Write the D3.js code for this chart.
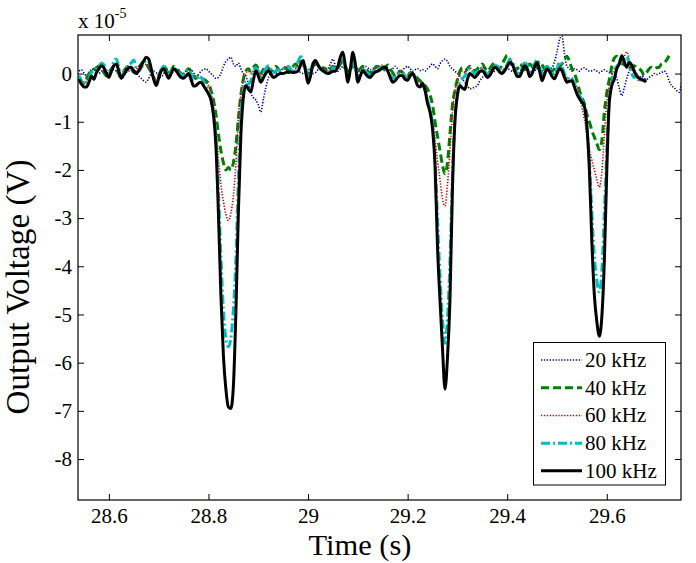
<!DOCTYPE html>
<html><head><meta charset="utf-8">
<script src="https://cdn.jsdelivr.net/npm/d3@7"></script>
<style>body{margin:0;background:#fff}svg{display:block}
text{font-family:"Liberation Serif","Times New Roman",Times,serif}</style>
</head><body><div id="chart"></div>
<script>
// ---- data (values in units of 1e-5 V), sampled every 5 ms from 28.54 s ----
const tStart = 28.54, tStep = 0.005;
const xTicks = [28.6, 28.8, 29, 29.2, 29.4, 29.6];
const yTicks = [0, -1, -2, -3, -4, -5, -6, -7, -8];
const seriesLabels = ["20 kHz", "40 kHz", "60 kHz", "80 kHz", "100 kHz"];

const v20 = [
 0.05,0.08,0.02,-0.05,0.00,0.08,0.10,0.05,0.00,0.05,
 0.10,0.05,-0.02,0.02,0.08,0.05,-0.05,-0.10,-0.05,0.02,
 0.05,0.10,0.08,0.02,-0.05,-0.10,-0.15,-0.18,-0.10,0.00,
 0.05,0.02,-0.05,-0.08,0.00,0.05,0.02,-0.02,0.05,0.10,
 0.08,0.02,0.00,0.05,0.10,0.08,0.02,-0.05,-0.02,0.05,
 0.08,0.10,0.05,0.00,-0.05,-0.10,-0.08,0.00,0.15,0.25,
 0.30,0.34,0.20,0.15,0.22,0.10,0.00,-0.05,-0.20,-0.40,
 -0.50,-0.55,-0.65,-0.80,-0.55,-0.30,-0.10,0.00,0.05,0.02,
 -0.02,0.05,0.10,0.08,0.02,0.00,0.05,0.10,0.08,0.02,
 0.00,0.05,0.10,0.05,0.00,0.02,0.08,0.12,0.10,0.05,
 0.10,0.20,0.30,0.15,0.05,0.10,0.15,0.08,0.05,0.10,
 0.12,0.15,0.10,0.05,0.10,0.15,0.12,0.08,0.10,0.15,
 0.12,0.08,0.10,0.15,0.12,0.05,0.10,0.15,0.10,0.05,
 0.08,0.12,0.15,0.10,0.05,0.08,0.10,0.06,0.08,0.05,
 0.10,0.15,0.20,0.15,0.10,0.20,0.27,0.30,0.25,0.15,
 0.10,0.05,0.00,-0.05,-0.12,-0.18,-0.25,-0.32,-0.30,-0.28,
 -0.25,-0.15,-0.08,-0.02,0.02,0.05,0.02,0.05,0.08,0.05,
 0.02,0.05,0.10,0.08,0.05,0.10,0.12,0.08,0.05,0.10,
 0.08,0.05,0.02,0.05,0.10,0.08,0.05,0.10,0.15,0.10,
 0.12,0.25,0.45,0.70,0.78,0.40,0.15,0.10,0.05,0.10,
 0.08,0.05,0.10,0.12,0.08,0.05,0.06,0.08,0.05,0.02,
 0.05,0.08,0.05,0.02,0.00,-0.02,-0.10,-0.30,-0.46,-0.30,
 -0.10,0.05,0.13,0.08,0.00,-0.08,-0.05,-0.10,-0.12,-0.08,
 -0.05,0.00,-0.02,0.00,0.02,0.05,0.00,-0.15,-0.25,-0.29,
 -0.35,-0.39,-0.20
];

const v40 = [
 -0.10,-0.18,-0.20,-0.10,0.00,0.05,0.08,0.12,0.15,0.10,
 0.02,-0.05,0.02,0.10,0.15,0.10,0.00,-0.05,0.05,0.12,
 0.15,0.10,0.02,0.05,0.12,0.20,0.25,0.22,0.12,0.02,
 -0.08,-0.15,-0.05,0.08,0.15,0.10,-0.02,0.05,0.15,0.12,
 0.05,0.00,-0.02,0.05,0.10,0.05,-0.05,-0.10,-0.05,-0.08,
 -0.12,-0.15,-0.20,-0.35,-0.55,-0.85,-1.25,-1.60,-1.85,-2.00,
 -1.95,-2.00,-1.85,-1.50,-0.95,-0.45,-0.12,0.05,0.10,0.05,
 0.12,0.18,0.10,0.00,0.08,0.15,0.12,0.05,0.10,0.15,
 0.10,0.05,0.08,0.12,0.05,0.10,0.15,0.20,0.15,0.25,
 0.20,0.05,-0.02,0.08,0.15,0.20,0.15,0.10,0.12,0.10,
 0.05,0.10,0.15,0.10,0.12,0.20,0.25,0.15,0.05,0.10,
 0.20,0.15,0.05,0.10,0.15,0.10,0.05,0.00,0.08,0.12,
 0.15,0.10,0.05,0.12,0.18,0.10,0.02,-0.05,0.00,0.05,
 0.02,-0.02,-0.05,0.02,0.00,-0.05,-0.10,-0.15,-0.20,-0.25,
 -0.32,-0.45,-0.65,-1.00,-1.30,-1.60,-1.90,-2.08,-1.85,-1.25,
 -0.65,-0.35,-0.12,0.05,0.12,0.05,0.10,0.15,0.10,0.05,
 0.10,0.15,0.20,0.12,0.05,0.10,0.18,0.22,0.15,0.10,
 0.20,0.30,0.38,0.30,0.15,0.05,0.10,0.20,0.15,0.08,
 0.12,0.20,0.15,0.08,0.15,0.25,0.18,0.10,0.15,0.08,
 0.05,0.10,0.18,0.15,0.20,0.30,0.36,0.25,0.10,0.00,
 -0.15,-0.35,-0.50,-0.62,-0.85,-1.00,-1.18,-1.32,-1.45,-1.58,
 -1.40,-0.80,-0.40,-0.12,0.15,0.32,0.36,0.30,0.22,0.18,
 0.15,0.12,0.15,0.16,0.12,0.10,0.05,-0.04,0.02,0.10,
 0.13,0.10,0.12,0.13,0.20,0.22,0.28,0.37
];

const v60 = [
 -0.05,-0.12,-0.18,-0.15,-0.05,0.05,0.10,0.08,0.12,0.15,
 0.10,0.02,0.00,0.10,0.18,0.15,0.05,-0.05,0.05,0.10,
 0.12,0.10,0.05,0.08,0.15,0.20,0.22,0.18,0.10,0.00,
 -0.10,-0.15,-0.02,0.08,0.12,0.05,-0.05,0.02,0.10,0.08,
 0.02,-0.02,0.00,0.05,0.08,0.02,-0.08,-0.12,-0.08,-0.10,
 -0.12,-0.18,-0.25,-0.40,-0.65,-1.15,-1.75,-2.30,-2.65,-2.92,
 -3.05,-2.90,-2.55,-1.90,-0.95,-0.45,-0.15,0.00,0.05,0.00,
 0.05,0.10,0.02,-0.08,0.00,0.10,0.12,0.05,0.00,0.05,
 0.08,0.05,0.10,0.15,0.12,0.08,0.05,0.10,0.18,0.25,
 0.22,0.05,-0.10,0.00,0.15,0.20,0.15,0.08,0.10,0.05,
 0.02,0.08,0.12,0.10,0.12,0.25,0.30,0.12,-0.05,0.08,
 0.28,0.15,-0.05,0.02,0.10,0.05,0.00,-0.02,0.05,0.10,
 0.12,0.15,0.18,0.12,0.05,-0.02,-0.08,-0.05,0.00,0.05,
 0.02,-0.05,-0.08,0.00,0.02,-0.05,-0.15,-0.20,-0.22,-0.28,
 -0.50,-0.75,-0.95,-1.35,-1.80,-2.20,-2.60,-2.75,-2.30,-1.60,
 -0.80,-0.35,-0.15,0.00,0.05,0.02,0.08,0.12,0.05,0.00,
 0.05,0.10,0.12,0.05,0.00,0.05,0.12,0.18,0.12,0.05,
 0.05,0.12,0.20,0.25,0.20,0.08,0.00,0.02,0.10,0.18,
 0.12,0.02,0.05,0.15,0.22,0.10,-0.05,0.02,0.10,0.05,
 0.00,-0.02,0.08,0.15,0.10,0.00,-0.10,-0.10,-0.12,-0.20,
 -0.30,-0.45,-0.70,-0.95,-1.25,-1.60,-1.80,-2.00,-2.20,-2.36,
 -2.05,-1.30,-0.60,-0.25,-0.05,0.10,0.15,0.22,0.28,0.35,
 0.45,0.30,0.10,0.00,-0.10,-0.15,-0.12,-0.18,-0.15
];

const v80 = [
 -0.05,-0.15,-0.22,-0.18,-0.10,0.02,0.05,0.10,0.15,0.22,
 0.18,0.05,-0.02,0.08,0.25,0.30,0.12,-0.05,0.02,0.10,
 0.18,0.22,0.28,0.10,0.05,0.12,0.20,0.28,0.25,0.08,
 -0.10,-0.18,-0.05,0.08,0.15,0.05,-0.05,0.05,0.12,0.08,
 0.02,-0.02,-0.05,0.05,0.08,0.00,-0.12,-0.10,-0.05,-0.08,
 -0.15,-0.25,-0.35,-0.50,-0.80,-1.30,-2.40,-3.80,-4.90,-5.50,
 -5.67,-5.50,-4.90,-3.90,-2.20,-0.90,-0.35,-0.15,-0.22,-0.15,
 0.05,0.12,0.05,-0.05,0.00,0.10,0.16,0.10,0.02,0.05,
 0.08,0.05,0.10,0.12,0.15,0.10,0.05,0.15,0.25,0.35,
 0.30,0.10,-0.05,0.05,0.22,0.25,0.15,0.10,0.05,0.08,
 0.05,0.10,0.12,0.08,0.15,0.28,0.30,0.10,-0.08,0.05,
 0.25,0.12,-0.10,0.00,0.10,0.05,0.00,-0.02,0.05,0.08,
 0.10,0.12,0.15,0.10,0.05,-0.02,-0.10,-0.08,-0.02,0.02,
 0.00,-0.05,-0.10,-0.02,0.02,-0.08,-0.20,-0.30,-0.25,-0.35,
 -0.55,-0.75,-1.05,-1.75,-3.00,-4.20,-5.10,-5.60,-5.10,-3.90,
 -2.10,-0.90,-0.40,-0.15,-0.10,-0.05,0.05,0.10,0.05,0.00,
 0.05,0.10,0.12,0.05,-0.02,0.02,0.10,0.18,0.15,0.08,
 0.05,0.10,0.20,0.28,0.25,0.10,0.00,0.02,0.12,0.22,
 0.18,0.05,0.08,0.20,0.28,0.15,-0.05,0.05,0.15,0.10,
 0.02,0.00,0.10,0.25,0.15,0.00,-0.10,-0.08,-0.10,-0.20,
 -0.35,-0.45,-0.55,-0.70,-1.10,-1.80,-2.90,-3.80,-4.30,-4.53,
 -4.10,-2.90,-1.60,-0.55,-0.20,0.05,0.15,0.20,0.25,0.30,
 0.35,0.20,0.00,-0.08,-0.05,-0.12,-0.15,-0.15
];

const v100 = [
 -0.12,-0.22,-0.28,-0.28,-0.18,-0.05,-0.12,0.02,0.10,0.16,
 0.12,0.00,-0.08,0.05,0.16,0.20,0.05,-0.10,-0.02,0.06,
 0.12,0.13,0.05,0.00,0.06,0.16,0.26,0.34,0.30,0.10,
 -0.12,-0.25,-0.10,0.05,0.10,0.00,-0.10,0.00,0.10,0.06,
 -0.02,-0.08,-0.10,-0.05,0.00,-0.12,-0.26,-0.25,-0.20,-0.18,
 -0.25,-0.33,-0.42,-0.55,-0.85,-1.50,-2.90,-4.60,-5.85,-6.55,
 -6.92,-6.95,-6.50,-5.00,-2.90,-1.30,-0.50,-0.25,-0.32,-0.38,
 -0.15,0.06,-0.05,-0.18,-0.10,0.00,0.06,0.00,-0.08,-0.06,
 -0.02,0.00,0.00,0.02,0.03,0.03,0.02,0.03,0.05,0.18,
 0.27,0.05,-0.20,-0.05,0.20,0.27,0.18,0.10,0.06,0.02,
 0.00,0.02,0.05,0.05,0.15,0.35,0.44,0.15,-0.18,0.10,
 0.44,0.20,-0.18,-0.05,0.06,0.00,-0.06,-0.08,-0.02,0.03,
 0.05,0.08,0.12,0.13,0.05,-0.08,-0.18,-0.15,-0.08,-0.04,
 -0.05,-0.12,-0.14,-0.05,0.00,-0.10,-0.25,-0.28,-0.20,-0.35,
 -0.62,-0.80,-1.15,-1.90,-3.60,-4.70,-5.70,-6.55,-5.90,-4.70,
 -2.40,-1.00,-0.45,-0.25,-0.30,-0.33,-0.12,0.00,-0.04,-0.08,
 -0.02,0.04,0.06,0.00,-0.08,-0.04,0.06,0.13,0.10,0.03,
 0.00,0.06,0.15,0.23,0.20,0.06,-0.06,-0.06,0.05,0.16,
 0.10,-0.06,0.00,0.15,0.23,0.05,-0.15,-0.02,0.10,0.04,
 -0.06,-0.11,0.00,0.10,0.06,-0.08,-0.18,-0.16,-0.15,-0.28,
 -0.42,-0.52,-0.60,-0.68,-1.10,-2.00,-3.50,-4.60,-5.15,-5.45,
 -5.05,-3.90,-2.00,-0.60,-0.25,-0.12,0.10,0.20,0.37,0.25,
 0.13,0.23,0.18,0.05,-0.05,-0.10,-0.12,-0.15,-0.15
];

const seriesValues = [v20, v40, v60, v80, v100];
const seriesColors = ["#000099", "#007f00", "#cc0000", "#00bfbf", "#000000"];
const seriesWidths = [1.6, 3, 1.6, 3, 3];
const seriesDash = ["1.3,1.6", "8,4", "1.3,1.6", "9,3,2,3", null];

// ---- layout ----
const W = 696, H = 563;
const M = {left: 78, right: 681, top: 35, bottom: 500};
const FONT = '"Liberation Serif","Times New Roman",Times,serif';

const svg = d3.select("#chart").append("svg")
  .attr("width", W).attr("height", H)
  .style("background", "#fff");

const x = d3.scaleLinear().domain([28.538, 29.749]).range([M.left, M.right]);
const y = d3.scaleLinear().domain([-8.85, 0.8]).range([M.bottom, M.top]);

svg.append("defs").append("clipPath").attr("id", "plotclip")
  .append("rect").attr("x", M.left).attr("y", M.top)
  .attr("width", M.right - M.left).attr("height", M.bottom - M.top);

// series
const line = d3.line()
  .x(d => x(d[0])).y(d => y(d[1]))
  .curve(d3.curveMonotoneX);

const gLines = svg.append("g").attr("clip-path", "url(#plotclip)");
seriesValues.forEach((vals, k) => {
  const pts = vals.map((v, i) => [tStart + i * tStep, v]);
  gLines.append("path")
    .attr("d", line(pts))
    .attr("fill", "none")
    .attr("stroke", seriesColors[k])
    .attr("stroke-width", seriesWidths[k])
    .attr("stroke-dasharray", seriesDash[k])
    .attr("stroke-linejoin", "round");
});

// axes
function styleAxis(g, showText) {
  g.attr("font-family", FONT).attr("font-size", 21);
  g.select(".domain").remove();
  g.selectAll(".tick line").attr("stroke", "#000").attr("stroke-width", 1);
  g.selectAll(".tick text")
    .attr("fill", "#000")
    .attr("font-family", FONT)
    .style("font-family", FONT)
    .style("font-size", "21px");
  if (!showText) g.selectAll(".tick text").remove();
}
const fmt = d => String(d);

svg.append("g").attr("transform", `translate(0,${M.bottom})`)
  .call(d3.axisBottom(x).tickValues(xTicks).tickFormat(fmt).tickSize(-6).tickPadding(8))
  .call(g => styleAxis(g, true));
svg.append("g").attr("transform", `translate(0,${M.top})`)
  .call(d3.axisTop(x).tickValues(xTicks).tickSize(-6))
  .call(g => styleAxis(g, false));
svg.append("g").attr("transform", `translate(${M.left},0)`)
  .call(d3.axisLeft(y).tickValues(yTicks).tickFormat(fmt).tickSize(-6).tickPadding(6))
  .call(g => styleAxis(g, true));
svg.append("g").attr("transform", `translate(${M.right},0)`)
  .call(d3.axisRight(y).tickValues(yTicks).tickSize(-6))
  .call(g => styleAxis(g, false));

// box
svg.append("rect")
  .attr("x", M.left).attr("y", M.top)
  .attr("width", M.right - M.left).attr("height", M.bottom - M.top)
  .attr("fill", "none").attr("stroke", "#000").attr("stroke-width", 1.2);

// exponent label
const expo = svg.append("text")
  .attr("x", M.left).attr("y", 28)
  .style("font-family", FONT).style("font-size", "21px").attr("fill", "#000");
expo.append("tspan").text("x 10");
expo.append("tspan").attr("dy", -10).style("font-size", "14px").text("-5");

// axis titles (font size tuned to the reference text length)
function fitText(sel, target) {
  const len = sel.node().getComputedTextLength();
  const fs = parseFloat(sel.style("font-size"));
  if (len > 0) sel.style("font-size", (fs * target / len).toFixed(2) + "px");
}
const xt = svg.append("text")
  .attr("x", 360).attr("y", 555)
  .attr("text-anchor", "middle")
  .style("font-family", FONT).style("font-size", "32px")
  .text("Time (s)");
fitText(xt, 103);
const yt = svg.append("text")
  .attr("transform", "translate(29,287) rotate(-90)")
  .attr("text-anchor", "middle")
  .style("font-family", FONT).style("font-size", "32px")
  .text("Output Voltage (V)");
fitText(yt, 255);

// legend
const lg = {x0: 533.5, y0: 342.5, x1: 665.5, y1: 485, rowY: [360, 387.7, 415.5, 443.3, 470.7]};
svg.append("rect")
  .attr("x", lg.x0).attr("y", lg.y0)
  .attr("width", lg.x1 - lg.x0).attr("height", lg.y1 - lg.y0)
  .attr("fill", "#fff").attr("stroke", "#000").attr("stroke-width", 1);
seriesLabels.forEach((lab, k) => {
  const yy = lg.rowY[k];
  svg.append("line")
    .attr("x1", 541).attr("x2", 582).attr("y1", yy).attr("y2", yy)
    .attr("stroke", seriesColors[k])
    .attr("stroke-width", seriesWidths[k])
    .attr("stroke-dasharray", seriesDash[k]);
  svg.append("text")
    .attr("x", 585).attr("y", yy).attr("dy", "0.33em")
    .style("font-family", FONT).style("font-size", "21px")
    .text(lab);
});
</script>
</body></html>
